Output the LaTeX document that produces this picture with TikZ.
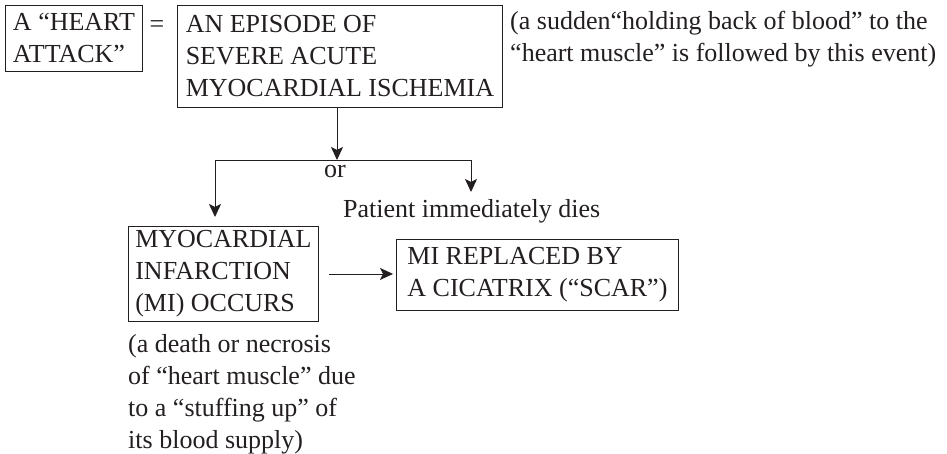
\documentclass[tikz,border=0pt]{standalone}
\usepackage{fontspec}
\setmainfont{Liberation Serif}
\usetikzlibrary{arrows.meta}
\definecolor{ink}{RGB}{35,31,32}
\begin{document}
\begin{tikzpicture}[x=1pt,y=-1pt,
  txt/.style={font=\fontsize{26}{32}\selectfont, text=ink},
  box/.style={txt, draw=ink, line width=0.9pt, align=left, anchor=north west, inner xsep=6pt, inner ysep=0pt},
  note/.style={txt, align=left, inner sep=0pt},
  arr/.style={draw=ink, line width=0.9pt, -{Stealth[length=13pt,width=12pt,inset=3pt]}}]
\useasboundingbox (0,0) rectangle (947,454);
% boxes
\node[box, minimum width=137pt, minimum height=66pt] (ha) at (5,5) {A “HEART\\ATTACK”};
\node[note, anchor=base] (eq) at (157,33) {=};
\node[box, minimum width=325pt, minimum height=102pt] (ep) at (177,5) {AN EPISODE OF\\SEVERE ACUTE\\MYOCARDIAL ISCHEMIA};
\node[note, anchor=north west] (n1) at (510,11) {(a sudden“holding back of blood” to the\\“heart muscle” is followed by this event)};
\node[note, anchor=base] (or) at (335,178) {or};
\node[note, anchor=base west] (dies) at (343,218) {Patient immediately dies};
\node[box, minimum width=190pt, minimum height=95pt] (mi) at (128,226) {MYOCARDIAL\\INFARCTION\\(MI) OCCURS};
\node[box, minimum width=282pt, minimum height=71pt] (scar) at (396,239) {MI REPLACED BY\\A CICATRIX (“SCAR”)};
\node[note, anchor=north west] (n2) at (128,334) {(a death or necrosis\\of “heart muscle” due\\to a “stuffing up” of\\its blood supply)};
% connectors
\coordinate (split) at (337,160);
\coordinate (lefttip) at (215,217);
\coordinate (righttip) at (471,192);
\draw[arr] (ep.south -| split) -- (split);
\draw[arr] (split) -| (lefttip);
\draw[arr] (split) -| (righttip);
\draw[arr] ([xshift=10pt]mi.east) -- ([xshift=-3pt]mi.east -| scar.west);
\end{tikzpicture}
\end{document}
